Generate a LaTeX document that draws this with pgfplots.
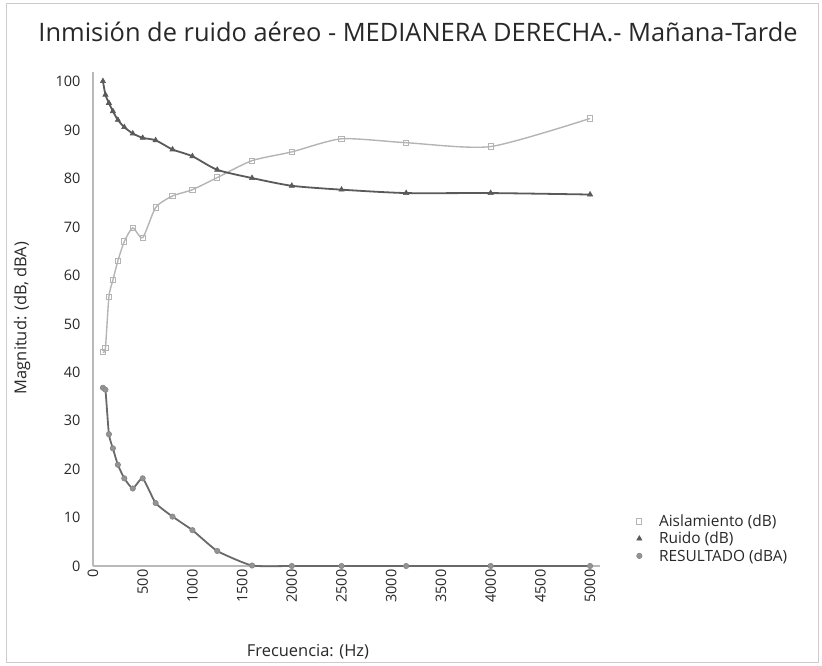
\documentclass[border=0pt]{standalone}
\usepackage{fontspec}
\setmainfont{Open Sans}
\usepackage{pgfplots}
\pgfplotsset{compat=1.18}
\definecolor{ais}{RGB}{180,180,180}
\definecolor{rui}{RGB}{90,90,90}
\definecolor{res}{RGB}{105,105,105}
\definecolor{txt}{RGB}{40,40,40}
\begin{document}
\begin{tikzpicture}[x=1bp,y=1bp]
\path[use as bounding box] (0,0) rectangle (822,666);
\draw[gray!40, line width=1bp] (6,3) rectangle (818,662);
\node[font=\fontsize{25.5}{30}\selectfont, text=txt] at (418,634) {Inmisión de ruido aéreo - MEDIANERA DERECHA.- Mañana-Tarde};
\node[rotate=90, font=\fontsize{16.5}{19}\selectfont, text=txt] at (22,348) {Magnitud: (dB, dBA)};
\node[font=\fontsize{16.5}{19}\selectfont, text=txt] at (308,14) {Frecuencia: (Hz)};
\begin{axis}[at={(93bp,100bp)}, anchor=south west, scale only axis,
  width=507bp, height=494bp,
  xmin=0, xmax=5100, ymin=0, ymax=102,
  axis x line=bottom, axis y line=left,
  axis line style={-, gray!55, line width=1.2bp},
  xtick={0,500,...,5000}, ytick={0,10,...,100},
  major tick length=0pt,
  scaled x ticks=false,
  /pgf/number format/1000 sep={},
  /pgf/number format/assume math mode=true,
  tick label style={font=\fontsize{14.5}{17}\selectfont, text=txt},
  x tick label style={rotate=90, anchor=east, xshift=0bp},
  yticklabel style={xshift=-9bp},
  legend style={at={(1.066,0.112)}, anchor=north west, draw=none, fill=none,
    font=\fontsize{15.5}{17}\selectfont, text=txt, row sep=0pt,
    legend cell align=left,
    /tikz/every odd column/.append style={column sep=15bp}},
  legend image code/.code={\draw[#1,only marks] plot coordinates {(0.15cm,0cm)};},
  clip=false,
]
\addplot[color=ais, line width=1.4bp, smooth, tension=0.4,
  mark=square, mark size=2.6bp, mark options={fill=white, line width=1bp, draw=ais}]
coordinates {
(100,44.2)(125,45.0)(160,55.6)(200,59.0)(250,63.0)(315,67.0)(400,69.8)(500,67.8)
(630,74.0)(800,76.4)(1000,77.7)(1250,80.2)(1600,83.7)(2000,85.5)(2500,88.2)
(3150,87.4)(4000,86.6)(5000,92.4)};
\addlegendentry{Aislamiento (dB)}
\addplot[color=rui, line width=1.8bp, smooth, tension=0.4,
  mark=triangle*, mark size=3bp, mark options={fill=rui, draw=rui, line width=0.6bp}]
coordinates {
(100,100.1)(125,97.3)(160,95.6)(200,93.9)(250,92.1)(315,90.6)(400,89.3)(500,88.4)
(630,87.9)(800,86.0)(1000,84.6)(1250,81.8)(1600,80.1)(2000,78.5)(2500,77.7)
(3150,77.0)(4000,77.0)(5000,76.7)};
\addlegendentry{Ruido (dB)}
\addplot[color=res, line width=1.8bp, smooth, tension=0.3,
  mark=*, mark size=2.7bp, mark options={fill=gray!85, draw=gray!95, line width=0.6bp}]
coordinates {
(100,36.8)(125,36.4)(160,27.2)(200,24.3)(250,20.9)(315,18.1)(400,16.0)(500,18.1)
(630,13.0)(800,10.2)(1000,7.4)(1250,3.1)(1600,0.1)(2000,0)(2500,0)
(3150,0)(4000,0)(5000,0)};
\addlegendentry{RESULTADO (dBA)}
\end{axis}
\end{tikzpicture}
\end{document}
